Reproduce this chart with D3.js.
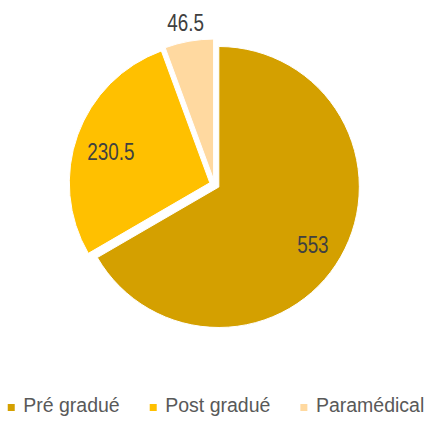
<!DOCTYPE html>
<html>
<head>
<meta charset="utf-8">
<script src="https://cdn.jsdelivr.net/npm/d3@7"></script>
<style>
  body { margin: 0; background: #fff; }
  text { font-family: "Liberation Sans", Arial, sans-serif; }
</style>
</head>
<body>
<svg id="canvas" width="430" height="426"></svg>
<script>
// ************************************************************************************** //
// Data

var categories = ['Pré gradué', 'Post gradué', 'Paramédical'];
var values = [553, 230.5, 46.5];
var value_labels = ['553', '230.5', '46.5'];
var colors = ['#D4A000', '#FFC000', '#FFD9A0'];

// ************************************************************************************** //
// Pie

var cx = 214.5, cy = 184.5, radius = 140.5, explode = 5;
var svg = d3.select('#canvas');
var pie_g = svg.append('g').attr('transform', 'translate(' + cx + ',' + cy + ')');

var pie = d3.pie().sort(null).startAngle(0).endAngle(2 * Math.PI);
var arc = d3.arc().innerRadius(0).outerRadius(radius);
var arcs = pie(values);
var total = d3.sum(values);

arcs.forEach(function(d, i){
  var mid = (d.startAngle + d.endAngle) / 2;
  var dx = Math.sin(mid) * explode, dy = -Math.cos(mid) * explode;
  var g = pie_g.append('g').attr('transform', 'translate(' + dx + ',' + dy + ')');
  g.append('path').attr('d', arc(d)).attr('fill', colors[i]).attr('stroke', '#fff').attr('stroke-width', 1);

  // labels inside the slice, or just outside when the slice is small
  var small = d.value / total < 0.1;
  var lr = small ? radius + 19 : radius * 0.76;
  var lx = Math.sin(mid) * lr + (small ? 0 : 1.5);
  var ly = -Math.cos(mid) * lr + (small ? 0 : 5);
  g.append('text')
    .attr('transform', 'translate(' + lx + ',' + ly + ') scale(0.82,1)')
    .attr('text-anchor', 'middle')
    .attr('dy', '0.35em')
    .style('font-size', '23px')
    .style('fill', '#404040')
    .text(value_labels[i]);
});

// ************************************************************************************** //
// Legend

var legend_g = svg.append('g').attr('transform', 'translate(0,411.5)');
var items = [];
categories.forEach(function(c, i){
  var item = legend_g.append('g');
  item.append('rect').attr('x', 0).attr('y', -7.5).attr('width', 7).attr('height', 7).attr('fill', colors[i]);
  var t = item.append('text').attr('x', 15.5).attr('y', 0).style('font-size', '19.5px').style('fill', '#595959').text(c);
  items.push({ g: item, w: 15.5 + t.node().getComputedTextLength() });
});
var gap = 30;
var total_w = d3.sum(items, function(d){ return d.w; }) + gap * (items.length - 1);
var x = (430 - total_w) / 2 + 1;
items.forEach(function(d){
  d.g.attr('transform', 'translate(' + x + ',0)');
  x += d.w + gap;
});
</script>
</body>
</html>
